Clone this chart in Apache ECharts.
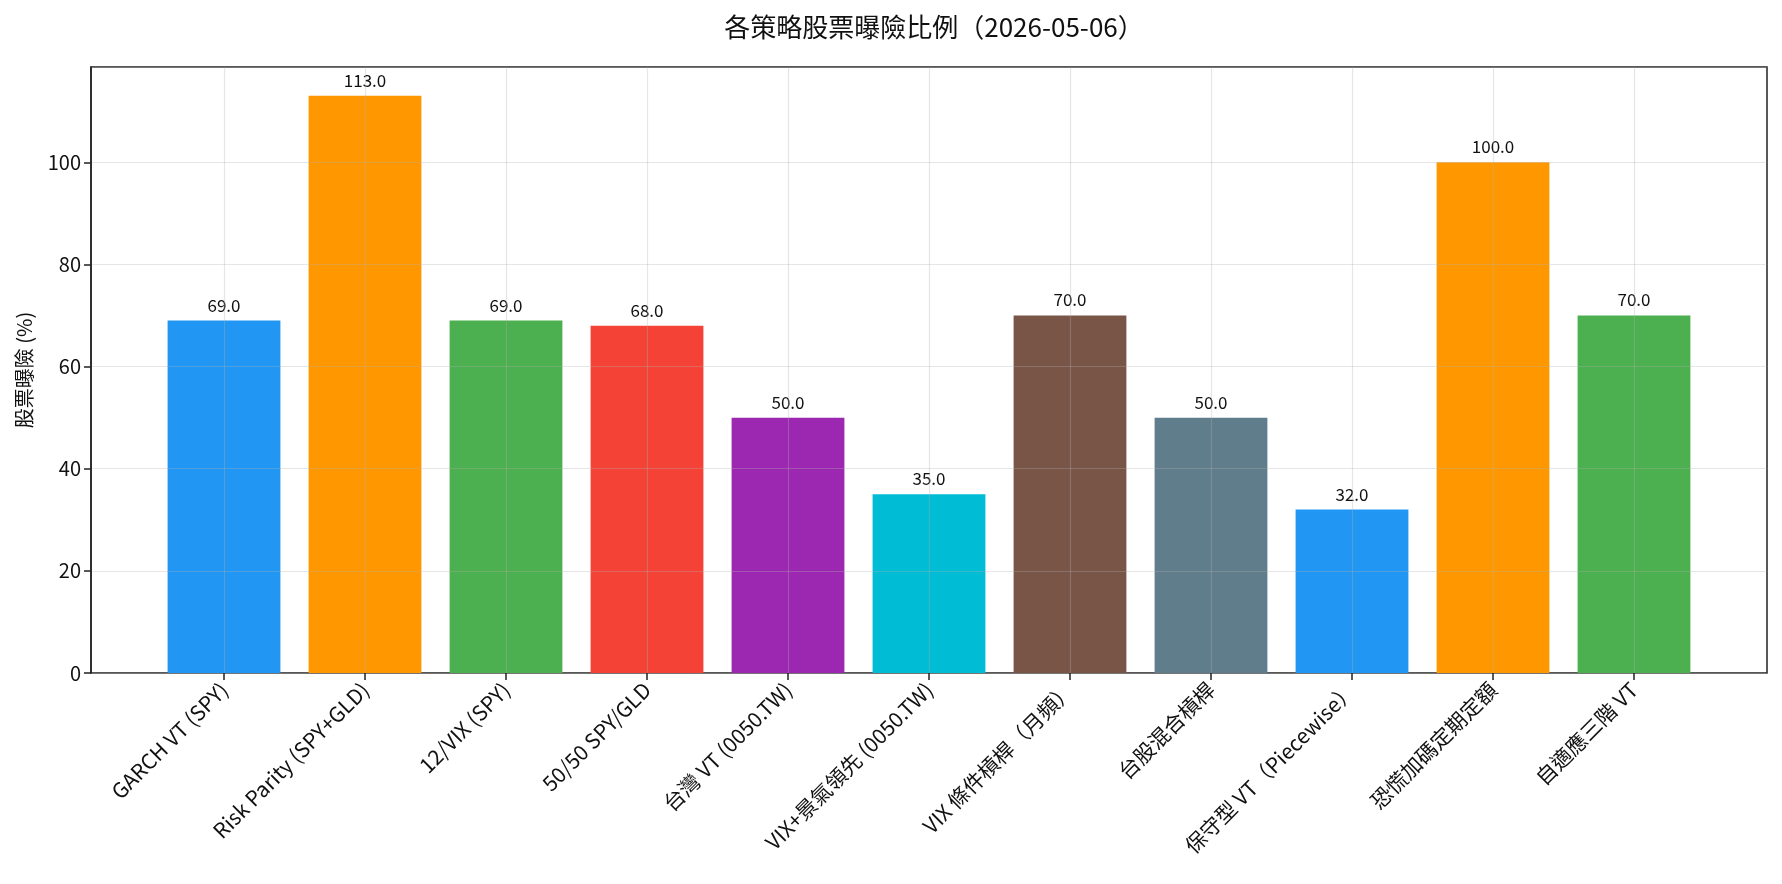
<!DOCTYPE html>
<html>
<head>
<meta charset="utf-8">
<title>各策略股票曝險比例</title>
<script src="https://cdn.jsdelivr.net/npm/echarts@6/dist/echarts.min.js"></script>
<style>
  html, body { margin: 0; padding: 0; background: #fff; }
  #chart { width: 1782px; height: 884px; }
</style>
</head>
<body>
<div id="chart"></div>
<script>
// 策略名稱
const strategies = [
    'GARCH VT (SPY)',
    'Risk Parity (SPY+GLD)',
    '12/VIX (SPY)',
    '50/50 SPY/GLD',
    '台灣 VT (0050.TW)',
    'VIX+景氣領先 (0050.TW)',
    'VIX 條件槓桿（月頻）',
    '台股混合槓桿',
    '保守型 VT（Piecewise）',
    '恐慌加碼定期定額',
    '自適應三階 VT'
];
// 股票曝險 (%)
const exposure = [69, 113, 69, 68, 50, 35, 70, 50, 32, 100, 70];
// 柱子顏色
const barColors = ['#2196F3', '#FF9800', '#4CAF50', '#F44336', '#9C27B0', '#00BCD4',
    '#795548', '#607D8B', '#2196F3', '#FF9800', '#4CAF50'];
// y軸刻度
const yTicks = [0, 20, 40, 60, 80, 100];
const yMax = 118.65;

const fontFamily = '"Noto Sans CJK TC", "Noto Sans", sans-serif';
const gridLineColor = 'rgba(176,176,176,0.32)';

const chart = echarts.init(document.getElementById('chart'), null, { renderer: 'canvas' });

const option = {
    backgroundColor: '#fff',
    animation: false,
    textStyle: { fontFamily: fontFamily },
    title: {
        text: '各策略股票曝險比例（2026-05-06）',
        // 置中於繪圖區上方
        left: 929,
        textAlign: 'center',
        top: 9,
        textStyle: { fontSize: 26, fontWeight: 'normal', color: '#111', fontFamily: fontFamily }
    },
    grid: [{
        // 外框：與 y 軸共用
        left: 91, right: 15, top: 67, bottom: 211,
        show: true,
        borderColor: '#222',
        borderWidth: 1.5,
        backgroundColor: 'transparent'
    }, {
        // 柱子：第一個與最後一個類別中心
        left: 224, right: 148, top: 67, bottom: 211
    }],
    xAxis: [{
        type: 'value',
        gridIndex: 0,
        min: 0,
        max: 1,
        show: false
    }, {
        type: 'category',
        gridIndex: 1,
        data: strategies,
        boundaryGap: false,
        z: 3,
        axisLine: { show: false },
        axisTick: { show: true, length: 7, lineStyle: { color: '#222', width: 1.5 } },
        axisLabel: {
            rotate: 45,
            interval: 0,
            margin: 13,
            fontSize: 21,
            color: '#111',
            fontFamily: fontFamily
        },
        splitLine: { show: true, lineStyle: { color: gridLineColor, width: 1.2 } }
    }],
    yAxis: [{
        type: 'value',
        gridIndex: 0,
        min: yTicks[0],
        max: yMax,
        interval: yTicks[1] - yTicks[0],
        z: 3,
        name: '股票曝險 (%)',
        nameLocation: 'middle',
        nameGap: 57,
        nameTextStyle: { fontSize: 20, color: '#111', fontFamily: fontFamily },
        axisLine: { show: true, lineStyle: { color: '#222', width: 1.5 } },
        axisTick: { show: true, length: 7, lineStyle: { color: '#222', width: 1.5 } },
        axisLabel: {
            showMaxLabel: false,
            margin: 10,
            fontSize: 20,
            color: '#111',
            fontFamily: fontFamily
        },
        splitLine: { show: true, lineStyle: { color: gridLineColor, width: 1.2 } }
    }, {
        type: 'value',
        gridIndex: 1,
        min: yTicks[0],
        max: yMax,
        show: false
    }],
    series: [{
        type: 'bar',
        xAxisIndex: 1,
        yAxisIndex: 1,
        barWidth: '80%',
        clip: false,
        data: exposure.map(function (v, i) {
            return { value: v, itemStyle: { color: barColors[i] } };
        }),
        label: {
            show: true,
            position: 'top',
            distance: 7,
            fontSize: 17,
            color: '#111',
            fontFamily: fontFamily,
            formatter: function (p) {
                return p.value.toFixed(1);
            }
        }
    }]
};

chart.setOption(option);

window.onresize = function () {
    chart.resize();
};
</script>
</body>
</html>
